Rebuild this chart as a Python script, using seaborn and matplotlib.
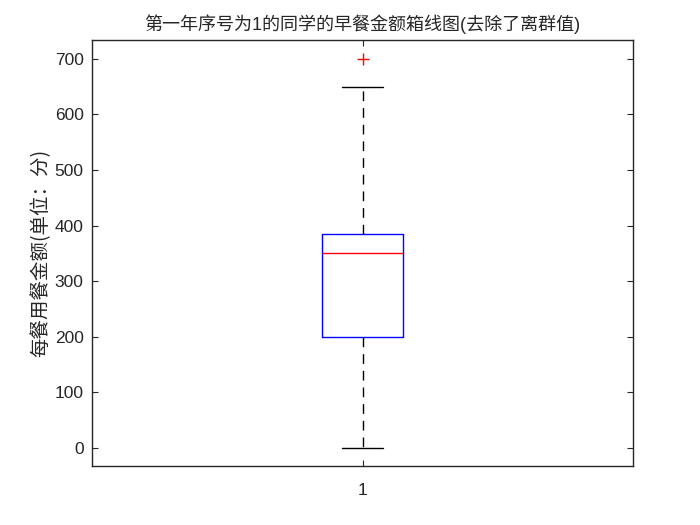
import matplotlib
matplotlib.use('Agg')
import matplotlib.pyplot as plt
import seaborn as sns
import pandas as pd

# breakfast spend per meal (fen)
group_labels = ['1'] * 9
spend = [0, 100, 200, 250, 350, 380, 385, 650, 700]

title = '第一年序号为1的同学的早餐金额箱线图(去除了离群值)'
ylabel = '每餐用餐金额(单位：分)'
yticks = [0, 100, 200, 300, 400, 500, 600, 700]

sns.set_style('white')
plt.rcParams['font.family'] = ['Liberation Sans', 'Noto Sans CJK SC', 'DejaVu Sans']

df = pd.DataFrame({'group': group_labels, 'spend': spend})

fig = plt.figure(figsize=(7, 5.25), dpi=100)
ax = fig.add_axes([92 / 700, 1 - 466 / 525, (633 - 92) / 700, (466 - 40) / 525])

sns.boxplot(data=df, x='group', y='spend', ax=ax, width=0.15, whis=1.5,
            fill=False, linewidth=1,
            boxprops=dict(color='#0000ff'),
            medianprops=dict(color='#ff0000', linewidth=1),
            whiskerprops=dict(color='black', linestyle=(0, (7, 5))),
            capprops=dict(color='black'),
            capwidths=0.075,
            flierprops=dict(marker='+', markeredgecolor='#ff0000', markersize=9))

ax.set_xlim(-0.5, 0.5)
ax.set_ylim(-33, 734)
ax.set_yticks(yticks)
ax.set_xlabel('')
ax.set_ylabel(ylabel, fontsize=14, labelpad=2, family=['Noto Sans CJK SC', 'DejaVu Sans'])
ax.set_title(title, fontsize=13, pad=7, family=['Liberation Sans', 'Noto Sans CJK SC'])

for side in ['left', 'right', 'top', 'bottom']:
    ax.spines[side].set_visible(True)
    ax.spines[side].set_color('#262626')
    ax.spines[side].set_linewidth(1)
ax.tick_params(direction='in', length=4, labelsize=12.5, colors='#262626',
               left=True, right=True, bottom=True, top=True, pad=6)
ax.tick_params(axis='x', pad=12)

fig.savefig('out.png', dpi=100)
